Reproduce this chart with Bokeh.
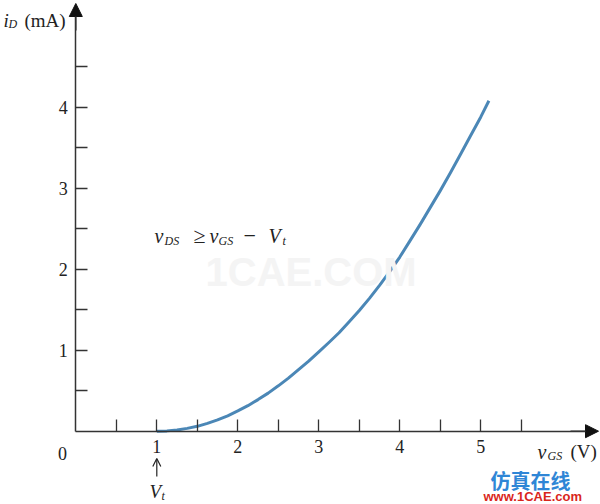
from bokeh.plotting import figure
from bokeh.models import FixedTicker, Label, Arrow, NormalHead, OpenHead, Range1d
from bokeh.embed import file_html
from bokeh.resources import INLINE

# ---- data ----
vgs = [1.0, 1.125, 1.25, 1.375, 1.5, 1.625, 1.75, 1.875, 2.0, 2.125, 2.25,
       2.375, 2.5, 2.625, 2.75, 2.875, 3.0, 3.125, 3.25, 3.375, 3.5, 3.625,
       3.75, 3.875, 4.0, 4.125, 4.25, 4.375, 4.5, 4.625, 4.75, 4.875, 5.0, 5.1]
id_ma = [0.0, 0.004, 0.015, 0.035, 0.06, 0.097, 0.14, 0.19, 0.25, 0.315, 0.39,
         0.47, 0.56, 0.655, 0.76, 0.865, 0.98, 1.095, 1.215, 1.35, 1.49, 1.64,
         1.80, 1.97, 2.15, 2.35, 2.55, 2.76, 2.97, 3.19, 3.42, 3.65, 3.88, 4.08]
x_major = [1, 2, 3, 4, 5]
x_minor = [0.5, 1.5, 2.5, 3.5, 4.5, 5.5]
y_major = [1, 2, 3, 4]
y_minor = [0.5, 1.5, 2.5, 3.5, 4.5]

# ---- layout helpers (canvas px -> data) ----
W, H = 600, 504
X0, Y0, S = 75.3, 430.7, 81.0
def dx(px):
    return (px - X0) / S
def dy(py):
    return (Y0 - py) / S

AX = "#333333"
SERIF = "Liberation Serif"

p = figure(width=W, height=H, output_backend="svg", toolbar_location=None,
           x_range=Range1d(dx(0), dx(W)), y_range=Range1d(dy(H), dy(0)),
           min_border=0)
p.min_border_left = 0
p.min_border_right = 0
p.min_border_top = 0
p.min_border_bottom = 0
p.outline_line_color = None
p.grid.visible = False
p.background_fill_color = "white"
p.border_fill_color = "white"

for ax, maj, mnr, end in ((p.xaxis[0], x_major, x_minor, dx(590)),
                          (p.yaxis[0], y_major, y_minor, dy(10))):
    ax.fixed_location = 0
    ax.bounds = (0, end)
    ax.ticker = FixedTicker(ticks=maj, minor_ticks=mnr)
    ax.axis_line_color = AX
    ax.axis_line_width = 1.5
    ax.major_tick_in = 12
    ax.major_tick_out = 0
    ax.minor_tick_in = 12
    ax.minor_tick_out = 0
    ax.major_tick_line_color = AX
    ax.minor_tick_line_color = AX
    ax.major_tick_line_width = 1.3
    ax.minor_tick_line_width = 1.3
    ax.major_label_text_font = SERIF
    ax.major_label_text_font_size = "18px"
    ax.major_label_text_color = "#222222"
p.xaxis[0].major_label_standoff = 9
p.yaxis[0].major_label_standoff = 8

p.line(vgs, id_ma, line_width=3, line_color="#4b87b6", line_join="round")

# axis arrowheads
p.add_layout(Arrow(end=NormalHead(size=13, fill_color="#111111", line_color="#111111"),
                   x_start=dx(570), y_start=0, x_end=dx(598), y_end=0,
                   line_color=AX, line_width=1.5))
p.add_layout(Arrow(end=NormalHead(size=13, fill_color="#111111", line_color="#111111"),
                   x_start=0, y_start=dy(30), x_end=0, y_end=dy(3),
                   line_color=AX, line_width=1.5))
# V_t marker arrow
p.add_layout(Arrow(end=OpenHead(size=8, line_color="#222222", line_width=1.2),
                   x_start=1, y_start=dy(476), x_end=1, y_end=dy(458),
                   line_color="#222222", line_width=1.2))

def lab(text, px, py, size, style="normal", color="#222222", font=SERIF, align="left"):
    p.add_layout(Label(x=dx(px), y=dy(py), text=text, text_font=font,
                       text_font_size=f"{size}px", text_font_style=style,
                       text_color=color, text_align=align,
                       text_baseline="alphabetic"))

# watermark (faint, behind)
lab("1CAE.COM", 205, 271, 40, "bold", color="#f4f4f4", font="Liberation Sans")

# origin label
lab("0", 62, 453, 18, align="center")

# y axis title
lab("i", 3, 20, 19, "italic")
lab("D", 8, 23, 12, "italic")
lab("(mA)", 24, 20, 19)

# x axis title
lab("v", 537, 451, 20, "italic")
lab("GS", 547, 455, 12, "italic")
lab("(V)", 570, 451, 19)

# V_t label
lab("V", 149, 491, 19, "italic")
lab("t", 161, 495, 12, "italic")

# condition text
lab("v", 154, 235, 20, "italic")
lab("DS", 164, 240, 12, "italic")
lab("\u2265", 193, 235, 22)
lab("v", 209, 235, 20, "italic")
lab("GS", 218, 240, 12, "italic")
lab("\u2212", 243, 235, 22)
lab("V", 268, 235, 20, "italic")
lab("t", 282, 240, 12, "italic")

# bottom-right watermark
lab("\u4eff\u771f\u5728\u7ebf", 490, 480, 20, "bold", color="#2f86d6", font="Noto Sans CJK SC")
lab("www.1CAE.com", 483, 496, 13, "bold", color="#d9261c", font="Liberation Sans")

open("out.html", "w").write(file_html(p, INLINE))
